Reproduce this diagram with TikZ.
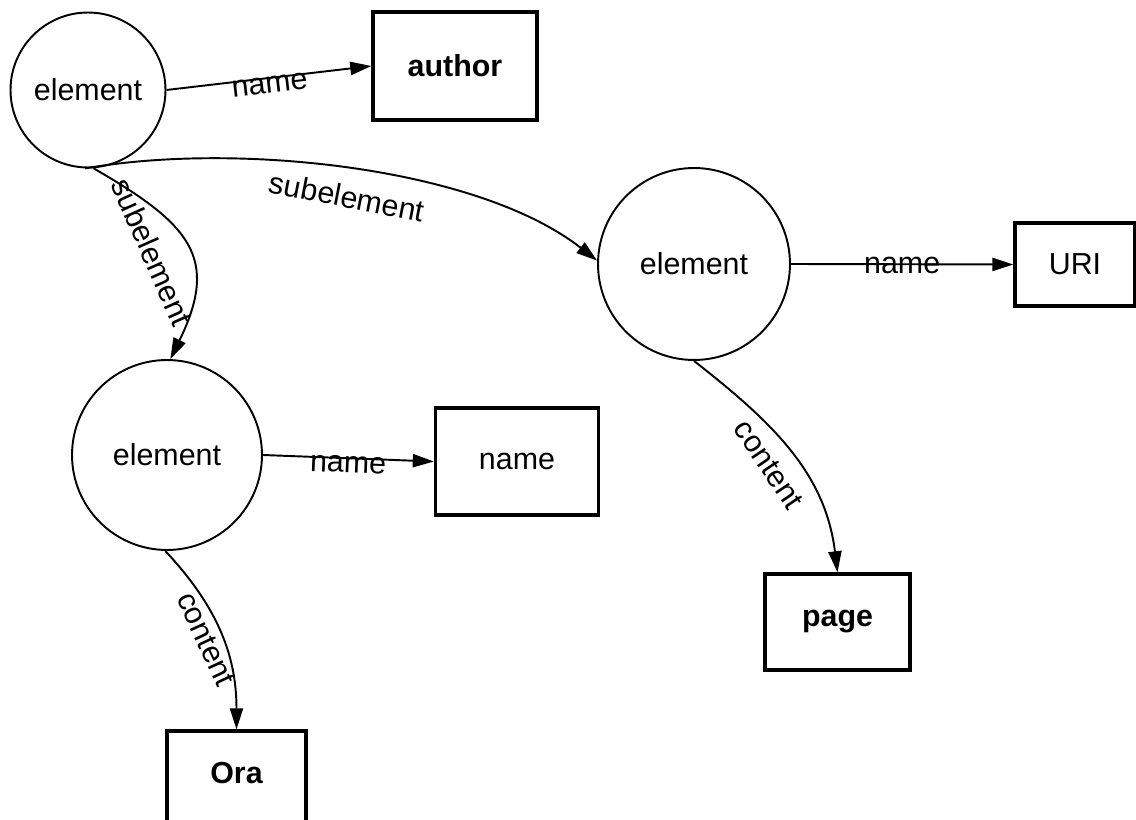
\documentclass[tikz,border=0pt]{standalone}
\usepackage{fontspec}
\setmainfont{Liberation Sans}
\usetikzlibrary{arrows.meta}
\tikzstyle{elem} = [draw, circle, line width=1.1pt, inner sep=0pt]
\tikzstyle{leaf} = [draw, rectangle, line width=1.9pt, inner sep=0pt]
\tikzstyle{link} = [draw, -{Triangle[length=12pt,width=7.5pt]}, line width=1.1pt]

\begin{document}
\begin{tikzpicture}[x=0.02cm, y=0.02cm, font=\fontsize{17.3}{20}\selectfont]
    \useasboundingbox (0,0) rectangle (1136,-820);
    \clip (0,0) rectangle (1136,-820);
    % element nodes
    \node[elem, minimum size=3.1cm] (e1) at (88,-90) {element};
    \node[elem, minimum size=3.84cm] (e2) at (694,-264) {element};
    \node[elem, minimum size=3.8cm] (e3) at (167,-455) {element};
    % value boxes
    \node[leaf, minimum width=3.28cm, minimum height=2.16cm] (author) at (455,-66) {\bfseries author};
    \node[leaf, minimum width=2.4cm, minimum height=1.66cm] (uri) at (1075,-264.5) {URI};
    \node[leaf, minimum width=3.26cm, minimum height=2.14cm] (nm) at (517,-461.5) {name};
    \node[leaf, minimum width=2.9cm, minimum height=1.92cm] (page) at (837.5,-622) {\bfseries page};
    \node[leaf, minimum width=2.78cm, minimum height=2cm, text depth=9pt] (ora) at (236.5,-781) {\bfseries Ora};
    % name edges
    \draw (e1.east) edge[link] node[sloped, yshift=-4pt] {name} (author.west);
    \draw (e2.east) edge[link] node[yshift=-0.5pt] {name} (uri.west);
    \draw (e3.east) edge[link] node[sloped, yshift=-3.7pt] {name} (nm.west);
    % subelement edges
    \draw (e1.-92) edge[link, out=10, in=142, looseness=0.75]
        node[pos=0.5, anchor=north, rotate=-11, inner sep=9pt] {subelement} (e2.178);
    \draw (e1.-86) edge[link, out=-30, in=64, looseness=1.4]
        node[pos=0.45, anchor=north, rotate=-66, inner sep=12pt] {subelement} (e3.88);
    % content edges
    \draw (e3.-91) edge[link, out=-47, in=90]
        node[pos=0.5, anchor=north, rotate=-65, inner sep=2.7pt] {content} (ora.north);
    \draw (e2.-90) edge[link, out=-38, in=97]
        node[pos=0.49, anchor=north, rotate=-56, inner sep=8pt] {content} (page.north);
\end{tikzpicture}
\end{document}
